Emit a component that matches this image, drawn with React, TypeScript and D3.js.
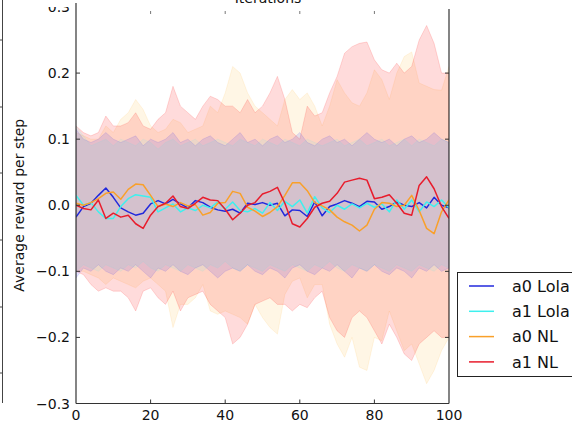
import * as d3 from "d3";

// iterations sampled every 2 steps
const iterations = [
  0, 2, 4, 6, 8, 10, 12, 14, 16, 18, 20, 22, 24, 26, 28, 30, 32, 34, 36, 38, 40, 42, 44, 46, 48, 50,
  52, 54, 56, 58, 60, 62, 64, 66, 68, 70, 72, 74, 76, 78, 80, 82, 84, 86, 88, 90, 92, 94, 96, 98, 100,
];

// mean reward per step
const a0LolaMean = [
  -0.018, -0.002, 0.003, 0.015, 0.026, 0.012, -0.004, -0.01, -0.015, -0.012, 0.002, 0.007, 0.002,
  0.009, 0.002, -0.004, 0.007, 0.004, -0.003, -0.007, -0.009, -0.006, -0.012, 0.003, 0.001, 0.004,
  0.0, 0.003, -0.016, -0.007, -0.008, -0.017, 0.005, -0.016, -0.002, 0.002, 0.007, 0.003, -0.002,
  0.006, 0.005, -0.006, -0.002, 0.005, 0.0, -0.002, 0.004, -0.004, 0.012, 0.0, -0.004,
];
const a1LolaMean = [
  0.015, 0.0, 0.004, -0.01, -0.02, -0.02, -0.002, 0.01, 0.016, 0.014, 0.012, -0.01, -0.004, 0.002,
  -0.01, -0.004, -0.008, 0.0, -0.004, 0.005, -0.006, 0.005, -0.008, -0.01, -0.005, -0.012, 0.004,
  -0.008, 0.006, -0.002, 0.008, -0.012, 0.013, -0.004, -0.011, 0.0, -0.006, 0.002, -0.004, 0.003,
  -0.003, 0.002, -0.01, 0.008, -0.006, 0.008, -0.01, 0.005, -0.002, 0.008, -0.004,
];
const a0NLMean = [
  0.003, 0.0, 0.004, 0.01, 0.018, 0.02, 0.009, 0.024, 0.032, 0.031, 0.015, -0.002, 0.002, -0.002,
  0.004, -0.001, 0.001, -0.015, -0.011, 0.003, 0.004, 0.021, 0.018, -0.003, -0.009, -0.017, -0.011,
  -0.002, 0.015, 0.034, 0.034, 0.022, 0.004, -0.001, -0.007, -0.018, -0.025, -0.03, -0.039, -0.03,
  -0.006, 0.004, 0.003, -0.002, 0.0, 0.015, -0.008, -0.035, -0.043, -0.01, 0.008,
];
const a1NLMean = [
  0.0, -0.005, -0.007, 0.008, -0.02, -0.012, -0.018, -0.015, -0.028, -0.035, -0.015, -0.002, 0.003,
  0.014, -0.002, -0.005, 0.003, 0.012, 0.008, 0.007, -0.006, -0.022, -0.012, 0.0, 0.004, 0.017,
  0.021, 0.027, 0.003, -0.028, -0.033, -0.02, -0.003, 0.003, 0.006, 0.018, 0.035, 0.038, 0.041,
  0.038, 0.01, 0.012, 0.016, 0.003, -0.012, -0.015, 0.03, 0.043, 0.025, -0.002, -0.02,
];

// shaded spread (upper / lower)
const a0LolaHi = [
  0.115, 0.1, 0.095, 0.1, 0.11, 0.1, 0.095, 0.1, 0.105, 0.09, 0.1, 0.095, 0.1, 0.11, 0.095, 0.1, 0.09,
  0.1, 0.105, 0.095, 0.09, 0.1, 0.11, 0.095, 0.1, 0.09, 0.1, 0.105, 0.095, 0.1, 0.11, 0.095, 0.09,
  0.1, 0.105, 0.095, 0.1, 0.09, 0.1, 0.11, 0.1, 0.095, 0.1, 0.09, 0.1, 0.105, 0.095, 0.1, 0.11, 0.1,
  0.095,
];
const a0LolaLo = [
  -0.11, -0.095, -0.1, -0.09, -0.1, -0.105, -0.095, -0.1, -0.09, -0.1, -0.11, -0.095, -0.1, -0.09,
  -0.1, -0.105, -0.095, -0.09, -0.1, -0.11, -0.1, -0.095, -0.1, -0.09, -0.1, -0.105, -0.095, -0.1,
  -0.11, -0.095, -0.09, -0.1, -0.105, -0.095, -0.1, -0.09, -0.1, -0.11, -0.095, -0.1, -0.09, -0.1,
  -0.105, -0.095, -0.1, -0.11, -0.095, -0.1, -0.09, -0.1, -0.095,
];
const a1LolaHi = [
  0.12, 0.105, 0.09, 0.095, 0.1, 0.09, 0.1, 0.095, 0.09, 0.1, 0.095, 0.085, 0.095, 0.1, 0.09, 0.095,
  0.1, 0.09, 0.095, 0.1, 0.095, 0.09, 0.1, 0.095, 0.09, 0.1, 0.095, 0.09, 0.1, 0.095, 0.09, 0.1,
  0.095, 0.09, 0.095, 0.1, 0.09, 0.095, 0.1, 0.09, 0.095, 0.1, 0.09, 0.095, 0.1, 0.09, 0.1, 0.095,
  0.09, 0.1, 0.095,
];
const a1LolaLo = [
  -0.1, -0.09, -0.095, -0.1, -0.09, -0.095, -0.1, -0.09, -0.095, -0.085, -0.095, -0.1, -0.09, -0.095,
  -0.1, -0.09, -0.095, -0.1, -0.09, -0.095, -0.085, -0.095, -0.1, -0.09, -0.095, -0.1, -0.09, -0.095,
  -0.1, -0.09, -0.095, -0.1, -0.09, -0.095, -0.085, -0.095, -0.1, -0.09, -0.095, -0.1, -0.09, -0.095,
  -0.1, -0.09, -0.095, -0.1, -0.09, -0.095, -0.1, -0.09, -0.095,
];
const a0NLHi = [
  0.11, 0.105, 0.1, 0.1, 0.12, 0.11, 0.13, 0.14, 0.16, 0.145, 0.12, 0.11, 0.115, 0.13, 0.125, 0.11,
  0.115, 0.12, 0.15, 0.14, 0.17, 0.21, 0.2, 0.17, 0.15, 0.14, 0.13, 0.12, 0.16, 0.175, 0.16, 0.17,
  0.15, 0.12, 0.15, 0.19, 0.17, 0.155, 0.15, 0.17, 0.205, 0.19, 0.16, 0.2, 0.225, 0.232, 0.185, 0.18,
  0.175, 0.174, 0.21,
];
const a0NLLo = [
  -0.1, -0.1, -0.105, -0.11, -0.12, -0.11, -0.115, -0.12, -0.125, -0.115, -0.11, -0.12, -0.13, -0.185,
  -0.15, -0.15, -0.14, -0.12, -0.16, -0.165, -0.16, -0.165, -0.17, -0.18, -0.15, -0.17, -0.185, -0.195,
  -0.135, -0.115, -0.11, -0.14, -0.12, -0.12, -0.18, -0.21, -0.23, -0.2, -0.245, -0.25, -0.2, -0.205,
  -0.16, -0.19, -0.22, -0.21, -0.24, -0.27, -0.25, -0.22, -0.2,
];
const a1NLHi = [
  0.12, 0.11, 0.105, 0.11, 0.135, 0.12, 0.12, 0.125, 0.14, 0.12, 0.115, 0.13, 0.14, 0.18, 0.15, 0.14,
  0.13, 0.15, 0.165, 0.16, 0.15, 0.15, 0.14, 0.16, 0.14, 0.15, 0.17, 0.195, 0.16, 0.11, 0.1, 0.15,
  0.135, 0.14, 0.17, 0.195, 0.23, 0.24, 0.245, 0.247, 0.22, 0.205, 0.2, 0.215, 0.2, 0.21, 0.25, 0.272,
  0.245, 0.2, 0.2,
];
const a1NLLo = [
  -0.1, -0.105, -0.12, -0.13, -0.125, -0.13, -0.13, -0.14, -0.16, -0.13, -0.125, -0.14, -0.15, -0.13,
  -0.16, -0.14, -0.135, -0.13, -0.15, -0.16, -0.17, -0.21, -0.2, -0.18, -0.15, -0.145, -0.14, -0.15,
  -0.15, -0.16, -0.15, -0.155, -0.14, -0.13, -0.17, -0.19, -0.2, -0.17, -0.16, -0.17, -0.19, -0.21,
  -0.18, -0.2, -0.225, -0.235, -0.21, -0.2, -0.19, -0.2, -0.2,
];

const labels = ["a0 Lola", "a1 Lola", "a0 NL", "a1 NL"];
const colors = ["#0000ff", "#00ffff", "#ffa500", "#ff0000"];
const lineColors = ["#2229dc", "#3ef0ee", "#f9a02a", "#e81c2c"];
const fillAlpha = [0.1, 0.07, 0.1, 0.14];
const means = [a0LolaMean, a1LolaMean, a0NLMean, a1NLMean];
const highs = [a0LolaHi, a1LolaHi, a0NLHi, a1NLHi];
const lows = [a0LolaLo, a1LolaLo, a0NLLo, a1NLLo];
// fills are layered NL first, then Lola
const fillOrder = [2, 3, 0, 1];

const xTicks = [0, 20, 40, 60, 80, 100];
const yTicks = [-0.3, -0.2, -0.1, 0.0, 0.1, 0.2, 0.3];

const W = 572;
const H = 424;
const font = "DejaVu Sans, sans-serif";

export default function App() {
  const x = d3.scaleLinear().domain([0, 100]).range([76, 449]);
  const y = d3.scaleLinear().domain([-0.3, 0.3]).range([403.5, 7]);
  const top = y(0.3);
  const bottom = y(-0.3);

  const fmtY = (v: number) => (v < 0 ? "\u2212" : "") + Math.abs(v).toFixed(1);

  const area = (i: number) =>
    d3
      .area<number>()
      .x((d) => x(d))
      .y0((_, k) => y(lows[i][k]))
      .y1((_, k) => y(highs[i][k]))(iterations) || "";

  const line = (i: number) =>
    d3
      .line<number>()
      .x((d) => x(d))
      .y((_, k) => y(means[i][k]))(iterations) || "";

  const leftEdgeTicks = [40, 107, 173, 240, 307, 373];

  return (
    <svg
      width={W}
      height={H}
      style={{ position: "absolute", left: 0, top: 0, background: "#fff" }}
      fontFamily={font}
    >
      <defs>
        <clipPath id="plot">
          <rect x={x(0)} y={top} width={x(100) - x(0)} height={bottom - top} />
        </clipPath>
        <clipPath id="topcut">
          <rect x={0} y={7} width={100} height={20} />
        </clipPath>
      </defs>
      <rect width={W} height={H} fill="#fff" />

      {/* edge of neighbouring panel */}
      <line x1={2.5} x2={2.5} y1={0} y2={403} stroke="#444" strokeWidth={1} />
      {leftEdgeTicks.map((t) => (
        <line key={t} x1={0} x2={2.5} y1={t} y2={t} stroke="#444" strokeWidth={1} />
      ))}

      <g clipPath="url(#plot)">
        {fillOrder.map((i) => (
          <path
            key={"f" + i}
            d={area(i)}
            fill={colors[i]}
            fillOpacity={fillAlpha[i]}
            stroke={colors[i]}
            strokeOpacity={fillAlpha[i]}
            strokeWidth={1}
          />
        ))}
        {means.map((_, i) => (
          <path
            key={"l" + i}
            d={line(i)}
            fill="none"
            stroke={lineColors[i]}
            strokeWidth={1.5}
            strokeLinejoin="round"
          />
        ))}
      </g>

      {/* spines */}
      <line x1={x(0)} x2={x(0)} y1={3} y2={bottom} stroke="#333" strokeWidth={1.2} />
      <line x1={x(100)} x2={x(100)} y1={9} y2={bottom} stroke="#333" strokeWidth={1.2} />
      <line x1={x(0)} x2={x(100)} y1={bottom} y2={bottom} stroke="#333" strokeWidth={1.2} />

      {/* y ticks */}
      {yTicks.map((t) => (
        <g key={"y" + t}>
          {t > -0.3 && t < 0.3 && (
            <>
              <line x1={x(0)} x2={x(0) + 4} y1={y(t)} y2={y(t)} stroke="#333" />
              <line x1={x(100) - 4} x2={x(100)} y1={y(t)} y2={y(t)} stroke="#333" />
            </>
          )}
          <text
            x={70}
            y={y(t)}
            dy="0.36em"
            textAnchor="end"
            fontSize={14}
            fill="#111"
            clipPath={t === 0.3 ? "url(#topcut)" : undefined}
          >
            {fmtY(t)}
          </text>
        </g>
      ))}

      {/* x ticks */}
      {xTicks.map((t) => (
        <g key={"x" + t}>
          {t > 0 && t < 100 && (
            <>
              <line x1={x(t)} x2={x(t)} y1={bottom} y2={bottom - 4} stroke="#333" />
              <line x1={x(t)} x2={x(t)} y1={11} y2={14} stroke="#777" />
            </>
          )}
          <text x={x(t)} y={420} textAnchor="middle" fontSize={14} fill="#111">
            {t}
          </text>
        </g>
      ))}

      {/* label of the panel above, cut by the crop */}
      <text x={268} y={3} textAnchor="middle" fontSize={14} fill="#111">
        Iterations
      </text>

      <text
        transform={`translate(24, ${(top + bottom) / 2}) rotate(-90)`}
        textAnchor="middle"
        fontSize={14}
        fill="#111"
      >
        Average reward per step
      </text>

      {/* legend */}
      <rect x={457.5} y={272.5} width={130} height={104} fill="#fff" stroke="#222" strokeWidth={1} />
      {labels.map((lab, i) => (
        <g key={lab} transform={`translate(0, ${286 + i * 25.3})`}>
          <line x1={469} x2={494} y1={0} y2={0} stroke={lineColors[i]} strokeWidth={1.5} />
          <text x={512} y={0} dy="0.36em" fontSize={16} fill="#111">
            {lab}
          </text>
        </g>
      ))}
    </svg>
  );
}
